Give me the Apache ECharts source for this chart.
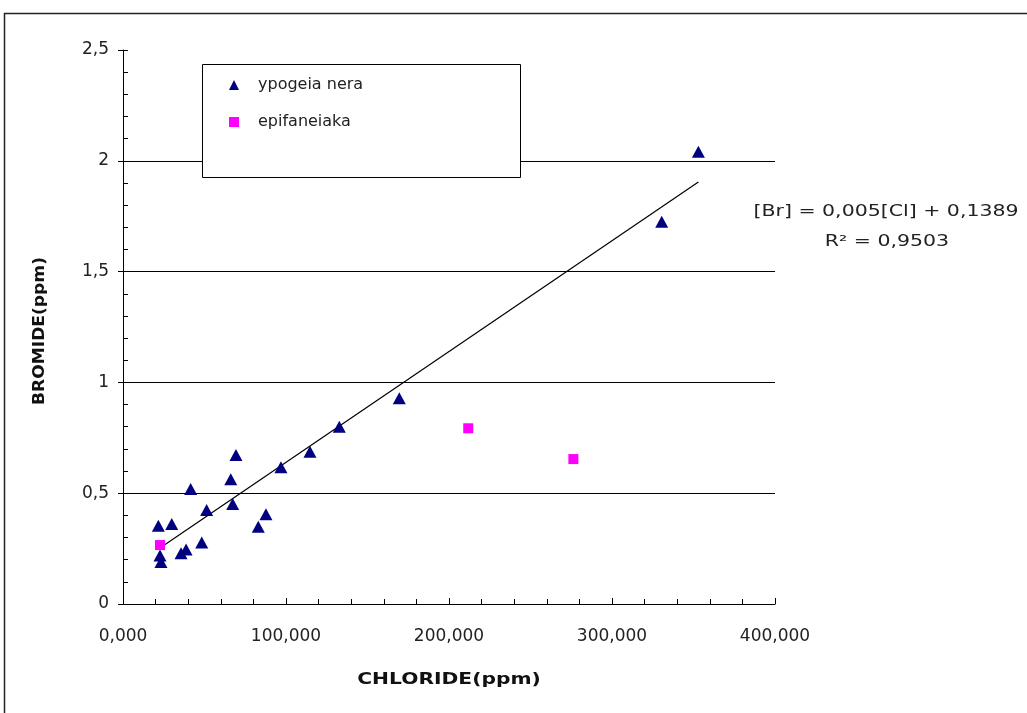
<!DOCTYPE html>
<html>
<head>
<meta charset="utf-8">
<title>Bromide vs Chloride</title>
<script src="https://cdn.jsdelivr.net/npm/echarts@6/dist/echarts.min.js"></script>
<style>
  html, body { margin: 0; padding: 0; background: #fff; }
  #chart { width: 1027px; height: 713px; }
</style>
</head>
<body>
<div id="chart"></div>
<script>
// Series names
const seriesNames = ['ypogeia nera', 'epifaneiaka'];

// Groundwater samples (chloride, bromide in ppm)
const ypogeiaCl = [21.7, 29.9, 41.5, 51.3, 48.3, 35.6, 38.7, 22.7, 23.3, 66.1, 69.3, 67.3, 83.0, 87.7, 96.9, 114.7, 132.7, 169.5, 330.5, 353.0];
const ypogeiaBr = [0.353, 0.361, 0.519, 0.424, 0.277, 0.229, 0.246, 0.219, 0.190, 0.563, 0.672, 0.451, 0.349, 0.405, 0.617, 0.687, 0.800, 0.928, 1.725, 2.041];

// Surface water samples
const epifCl = [22.7, 211.8, 276.3];
const epifBr = [0.266, 0.793, 0.654];

// Linear trend fitted to the groundwater samples
const trendSlope = [0.005];
const trendIntercept = [0.1389];
const trendR2 = [0.9503];
const trendRange = [22, 353];

// Axis scales
const xTicks = [0, 100, 200, 300, 400];
const yTicks = [0, 0.5, 1, 1.5, 2, 2.5];

const FONT = 'DejaVu Sans';
const comma = v => String(v).replace('.', ',');

const groundPts = ypogeiaCl.map((c, i) => [c, ypogeiaBr[i]]);
const surfacePts = epifCl.map((c, i) => [c, epifBr[i]]);
const trendPts = trendRange.map(x => [x, trendSlope[0] * x + trendIntercept[0]]);

const eqLine1 = '[Br] = ' + comma(trendSlope[0]) + '[Cl] + ' + comma(trendIntercept[0]);
const eqLine2 = 'R\u00B2 = ' + comma(trendR2[0]);

const chart = echarts.init(document.getElementById('chart'), null, { renderer: 'canvas' });

const yCommon = {
  type: 'value',
  min: yTicks[0],
  max: yTicks[yTicks.length - 1],
  interval: yTicks[1] - yTicks[0]
};

chart.setOption({
  backgroundColor: '#ffffff',
  animation: false,
  grid: { left: 123, right: 252, top: 50, bottom: 109, containLabel: false },
  xAxis: {
    type: 'value',
    min: xTicks[0],
    max: xTicks[xTicks.length - 1],
    interval: xTicks[1] - xTicks[0],
    axisLine: { show: true, lineStyle: { color: '#000', width: 1 } },
    axisTick: { show: true, inside: true, length: 6, lineStyle: { color: '#000' } },
    minorTick: { show: true, splitNumber: 5, length: 5, lineStyle: { color: '#000' } },
    splitLine: { show: false },
    axisLabel: {
      margin: 24,
      color: '#222',
      fontFamily: FONT,
      fontSize: 17,
      formatter: v => v.toFixed(3).replace('.', ',')
    }
  },
  yAxis: [
    Object.assign({}, yCommon, {
      axisLine: { show: true, lineStyle: { color: '#000', width: 1 } },
      axisTick: { show: true, inside: true, length: 5, lineStyle: { color: '#000' } },
      minorTick: { show: true, splitNumber: 5, length: 5, lineStyle: { color: '#000' } },
      splitLine: { show: true, showMaxLine: false, lineStyle: { color: '#000', width: 1 } },
      axisLabel: {
        margin: 14,
        color: '#222',
        fontFamily: FONT,
        fontSize: 17,
        formatter: v => comma(v)
      }
    }),
    // outward half of the crossing major ticks
    Object.assign({}, yCommon, {
      position: 'left',
      axisLine: { show: false },
      axisTick: { show: true, inside: false, length: 5, lineStyle: { color: '#000' } },
      axisLabel: { show: false },
      splitLine: { show: false }
    })
  ],
  legend: {
    orient: 'vertical',
    left: 229,
    top: 75,
    padding: 0,
    itemGap: 17,
    itemWidth: 10,
    itemHeight: 10,
    selectedMode: false,
    textStyle: { fontFamily: FONT, fontSize: 16, color: '#222', lineHeight: 20, padding: [0, 0, 0, 14] },
    data: [
      { name: seriesNames[0], icon: 'triangle', itemStyle: { color: '#000080', opacity: 1 } },
      { name: seriesNames[1], icon: 'rect', itemStyle: { color: '#ff00ff', opacity: 1 } }
    ],
    z: 5
  },
  graphic: [
    // outer chart frame
    {
      type: 'rect', z: 1, silent: true,
      shape: { x: 4.5, y: 13.5, width: 1100, height: 800 },
      style: { fill: 'none', stroke: '#222', lineWidth: 1.5 }
    },
    // legend box
    {
      type: 'rect', z: 3, silent: true,
      shape: { x: 202.5, y: 64.5, width: 318, height: 113 },
      style: { fill: '#fff', stroke: '#000', lineWidth: 1 }
    },
    // trend equation
    {
      type: 'text', z: 4, x: 886, y: 212, scaleX: 1.28, silent: true,
      style: { text: eqLine1, fill: '#222', font: '16px "DejaVu Sans"', align: 'center', verticalAlign: 'middle' }
    },
    {
      type: 'text', z: 4, x: 887, y: 242, scaleX: 1.28, silent: true,
      style: { text: eqLine2, fill: '#222', font: '16px "DejaVu Sans"', align: 'center', verticalAlign: 'middle' }
    },
    // axis titles
    {
      type: 'text', z: 4, x: 449, y: 680, scaleX: 1.35, silent: true,
      style: { text: 'CHLORIDE(ppm)', fill: '#111', font: 'bold 15px "DejaVu Sans"', align: 'center', verticalAlign: 'middle' }
    },
    {
      type: 'text', z: 4, x: 40, y: 331, rotation: Math.PI / 2, scaleX: 1.14, silent: true,
      style: { text: 'BROMIDE(ppm)', fill: '#111', font: 'bold 15px "DejaVu Sans"', align: 'center', verticalAlign: 'middle' }
    }
  ],
  series: [
    {
      name: 'trend',
      type: 'line',
      data: trendPts,
      showSymbol: false,
      symbol: 'none',
      lineStyle: { color: '#000', width: 1.2 },
      z: 2,
      silent: true
    },
    {
      name: seriesNames[0],
      type: 'scatter',
      data: groundPts,
      symbol: 'triangle',
      symbolSize: [13, 12],
      itemStyle: { color: '#000080', opacity: 1 },
      z: 3
    },
    {
      name: seriesNames[1],
      type: 'scatter',
      data: surfacePts,
      symbol: 'rect',
      symbolSize: 10,
      itemStyle: { color: '#ff00ff', opacity: 1 },
      z: 3
    }
  ]
});
</script>
</body>
</html>
